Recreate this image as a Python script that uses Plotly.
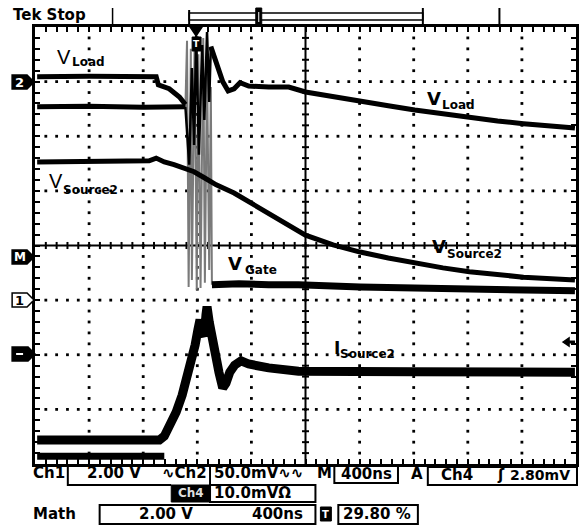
import plotly.graph_objects as go

# ---------------- data (time in divisions of 400 ns, amplitude in screen divisions from bottom) -------------
t_vload = [0.04, 1.0, 2.0, 2.78, None, 3.25, 3.36, 3.47, 3.57, 3.68, 3.79, 3.95, 4.32, 4.69,
           5.00, 5.51, 6.01, 6.53, 7.02, 7.54, 8.03, 8.55, 9.03, 9.98]
vload = [6.54, 6.55, 6.53, 6.54, None, 7.64, 7.31, 7.00, 6.83, 6.87, 6.98, 6.92, 6.90, 6.90,
         6.81, 6.72, 6.63, 6.56, 6.48, 6.41, 6.34, 6.28, 6.23, 6.15]

t_vload_ring = [2.78, 2.85, 2.90, 2.94, 2.98, 3.03, 3.09, 3.13, 3.18, 3.22, 3.25]
vload_ring = [6.54, 5.48, 7.25, 5.84, 7.84, 5.66, 7.67, 6.30, 7.91, 6.63, 7.64]

t_upper = [0.04, 1.0, 2.24, 2.28, 2.48, 2.67, 2.78]
v_upper = [7.09, 7.10, 7.09, 6.94, 6.87, 6.72, 6.58]

t_vs2 = [0.04, 1.0, 2.11, 2.24, 2.39, 2.57, 2.76, 2.94, 3.13, 3.35, 3.68, 3.95, 4.23, 4.56,
         4.87, 5.00, 5.51, 6.01, 6.53, 7.02, 7.54, 8.03, 8.55, 9.03, 9.98]
vs2 = [5.53, 5.54, 5.55, 5.60, 5.53, 5.48, 5.42, 5.35, 5.24, 5.11, 4.96, 4.80, 4.63, 4.43,
       4.25, 4.19, 4.01, 3.88, 3.77, 3.68, 3.59, 3.52, 3.46, 3.42, 3.37]

t_vgate = [0.04, 1.0, 2.39, None, 3.27, 3.77, 4.32, 4.87, 6.01, 7.02, 8.03, 9.03, 9.98]
vgate = [0.14, 0.14, 0.14, None, 3.28, 3.30, 3.28, 3.28, 3.24, 3.22, 3.21, 3.19, 3.17]

t_vgate_ring = [2.78, 2.81, 2.84, 2.88, 2.90, 2.95, 2.99, 3.02, 3.06, 3.11, 3.14, 3.18, 3.22, 3.25, 3.27]
vgate_ring = [6.54, 7.75, 3.24, 7.60, 3.37, 7.70, 3.19, 7.50, 3.22, 7.80, 3.32, 7.30, 3.55, 6.90, 3.28]

t_is2 = [0.04, 1.0, 2.30, 2.39, 2.48, 2.61, 2.72, 2.81, 2.89, 2.96, 3.01, 3.05, 3.09, 3.13,
         3.16, 3.18, 3.22, 3.27, 3.33, 3.40, 3.47, 3.53, 3.60, 3.69, 3.81, 3.95, 4.32, 4.87, 7.0, 9.98]
is2 = [0.44, 0.45, 0.44, 0.51, 0.66, 0.95, 1.26, 1.58, 1.90, 2.18, 2.45, 2.64, 2.42, 2.34,
       2.73, 2.88, 2.60, 2.27, 2.00, 1.68, 1.39, 1.48, 1.68, 1.81, 1.89, 1.83, 1.76, 1.70, 1.69, 1.68]

readout_line1 = ["Ch1", "2.00 V", "∿Ch2", "50.0mV∿∿", "M", "400ns", "A", "Ch4", "ʃ", "2.80mV"]
readout_line2 = ["Ch4", "10.0mVΩ"]
readout_line3 = ["Math", "2.00 V", "400ns", "T", "29.80 %"]

# ---------------- layout geometry ----------------
W, H = 588, 531
L, R, T, B = 35, 9, 27, 67
PW, PH = W - L - R, H - T - B


def px(x):
    return (x - L) / PW


def py(y):
    return (H - B - y) / PH


fig = go.Figure()

# graticule dots
dx, dy = [], []
for gx in range(1, 10):
    if gx == 5:
        continue
    for k in range(1, 40):
        dx.append(gx)
        dy.append(k * 0.2)
for gy in range(1, 8):
    if gy == 4:
        continue
    for k in range(1, 50):
        dx.append(k * 0.2)
        dy.append(gy)
fig.add_trace(go.Scatter(x=dx, y=dy, mode="markers",
                         marker=dict(symbol="square", size=2.8, color="black", line=dict(width=0)),
                         hoverinfo="skip"))

# center cross ticks
cx, cy = [], []
for k in range(1, 50):
    cx += [k * 0.2, k * 0.2, None]
    cy += [4 - 0.065, 4 + 0.065, None]
for k in range(1, 40):
    cx += [5 - 0.065, 5 + 0.065, None]
    cy += [k * 0.2, k * 0.2, None]
cx += [0, 10, None, 5, 5]
cy += [4, 4, None, 0, 8]
fig.add_trace(go.Scatter(x=cx, y=cy, mode="lines", line=dict(color="black", width=2),
                         hoverinfo="skip"))

# traces
fig.add_trace(go.Scatter(x=t_vgate_ring, y=vgate_ring, mode="lines",
                         line=dict(color="#7a7a7a", width=2), hoverinfo="skip"))
fig.add_trace(go.Scatter(x=t_vload_ring, y=vload_ring, mode="lines",
                         line=dict(color="black", width=2.5), hoverinfo="skip"))
fig.add_trace(go.Scatter(x=t_upper, y=v_upper, mode="lines",
                         line=dict(color="black", width=5), hoverinfo="skip"))
fig.add_trace(go.Scatter(x=t_vload, y=vload, mode="lines", connectgaps=False,
                         line=dict(color="black", width=5), hoverinfo="skip"))
fig.add_trace(go.Scatter(x=t_vs2, y=vs2, mode="lines",
                         line=dict(color="black", width=5), hoverinfo="skip"))
fig.add_trace(go.Scatter(x=t_vgate, y=vgate, mode="lines", connectgaps=False,
                         line=dict(color="black", width=7), hoverinfo="skip"))
fig.add_trace(go.Scatter(x=t_is2, y=is2, mode="lines",
                         line=dict(color="black", width=9), hoverinfo="skip"))

axis_common = dict(showgrid=False, zeroline=False, showline=True, linecolor="black",
                   linewidth=3, mirror="ticks", ticks="inside", tick0=0, dtick=0.2,
                   ticklen=5, tickwidth=2, tickcolor="black", showticklabels=False,
                   fixedrange=True)
fig.update_xaxes(range=[0, 10], **axis_common)
fig.update_yaxes(range=[0, 8], **axis_common)

shapes = []
annotations = []


def line(x0, y0, x1, y1, w=2, c="black"):
    shapes.append(dict(type="line", xref="paper", yref="paper", x0=px(x0), y0=py(y0),
                       x1=px(x1), y1=py(y1), line=dict(color=c, width=w)))


def rect(x0, y0, x1, y1, w=2, fill=None):
    d = dict(type="rect", xref="paper", yref="paper", x0=px(x0), y0=py(y0), x1=px(x1), y1=py(y1),
             line=dict(color="black", width=w))
    if fill:
        d["fillcolor"] = fill
    shapes.append(d)


def poly(pts, fill="black", w=1.5):
    path = "M " + " L ".join(f"{px(a):.5f},{py(b):.5f}" for a, b in pts) + " Z"
    shapes.append(dict(type="path", xref="paper", yref="paper", path=path,
                       fillcolor=fill, line=dict(color="black", width=w)))


def text(x, y, s, size=15, family="DejaVu Sans", bold=True, color="black", anchor="left"):
    annotations.append(dict(xref="paper", yref="paper", x=px(x), y=py(y), text=(f"<b>{s}</b>" if bold else s),
                            showarrow=False, xanchor=anchor, yanchor="middle",
                            font=dict(family=family, size=size, color=color), borderpad=0))


# header
text(12, 15, "Tek Stop", size=15)
line(113, 8, 113, 26, 1.5)
line(190, 10, 190, 26, 2)
rect(190, 13, 425, 20, 1.5)
line(425, 8, 425, 26, 2)
rect(257, 8, 263, 26, 1, fill="black")
line(260, 12, 260, 22, 1, "white")
line(502, 8, 502, 26, 2)

# trigger position marker
poly([(191, 27), (203, 27), (197, 36)])
rect(193, 37, 202, 51, 1, fill="black")
text(197.5, 44, "T", size=9, color="white", anchor="center")

# left channel markers
poly([(12, 75), (27, 75), (34, 82), (27, 89), (12, 89)])
text(19.5, 82, "2", size=13, color="white", anchor="center")
poly([(12, 250), (27, 250), (34, 257), (27, 264), (12, 264)])
text(19.5, 257, "M", size=12, color="white", anchor="center")
poly([(12, 293), (27, 293), (34, 300), (27, 307), (12, 307)], fill="white")
text(19.5, 300, "1", size=13, anchor="center")
poly([(12, 347), (28, 347), (35, 354), (28, 361), (12, 361)])
line(16, 354, 23, 354, 2, "white")

# trigger level arrow (right)
poly([(566, 342), (572, 338), (572, 346)])
line(572, 342, 578, 342, 3)

# trace labels
text(56, 57, "V", size=20, family="Liberation Sans", bold=False)
text(71, 62, "Load", size=12)
text(48, 181, "V", size=20, family="Liberation Sans", bold=False)
text(62, 190, "Source2", size=12)
text(428, 98, "V", size=18)
text(443, 105, "Load", size=12)
text(433, 246, "V", size=18)
text(448, 254, "Source2", size=12)
text(228, 263, "V", size=18)
text(245, 270, "Gate", size=12)
text(335, 348, "I", size=17)
text(341, 354, "Source2", size=12)

# readout line 1
y1 = 473
text(32, y1, readout_line1[0])
text(86, y1, readout_line1[1])
text(162, y1, readout_line1[2])
text(214, y1, readout_line1[3])
text(318, y1, readout_line1[4])
text(368, y1 + 1, readout_line1[5], anchor="center")
text(412, y1 + 1, readout_line1[6])
text(442, y1 + 2, readout_line1[7])
text(499, y1 + 2, readout_line1[8])
text(512, y1 + 2, readout_line1[9], size=14)
shapes.append(dict(type="path", xref="paper", yref="paper",
                   path=f"M {px(68)},{py(465)} L {px(68)},{py(485)} L {px(172)},{py(485)}",
                   line=dict(color="black", width=2)))
line(211, 465, 211, 502, 2)
rect(336, 466, 400, 483, 2)
rect(430, 467, 580, 485, 2)

# readout line 2
y2 = 493
rect(172, 485, 211, 502, 1, fill="black")
text(191.5, y2, readout_line2[0], size=12, color="#dddddd", anchor="center")
text(214, y2, readout_line2[1])
rect(211, 485, 317, 502, 2)

# readout line 3
y3 = 514
text(32, y3, readout_line3[0])
rect(100, 505, 317, 524, 2)
text(139, y3, readout_line3[1])
text(252, y3, readout_line3[2])
rect(322, 507, 333, 521, 1, fill="black")
text(327.5, y3, readout_line3[3], size=10, color="white", anchor="center")
rect(340, 505, 420, 524, 2)
text(344, y3, readout_line3[4])

fig.update_layout(width=W, height=H, margin=dict(l=L, r=R, t=T, b=B, pad=0),
                  plot_bgcolor="white", paper_bgcolor="white", showlegend=False,
                  hovermode=False, shapes=shapes, annotations=annotations)

fig.write_html("out.html", config={"displayModeBar": False, "staticPlot": True},
               post_script="document.body.style.margin='0';")
